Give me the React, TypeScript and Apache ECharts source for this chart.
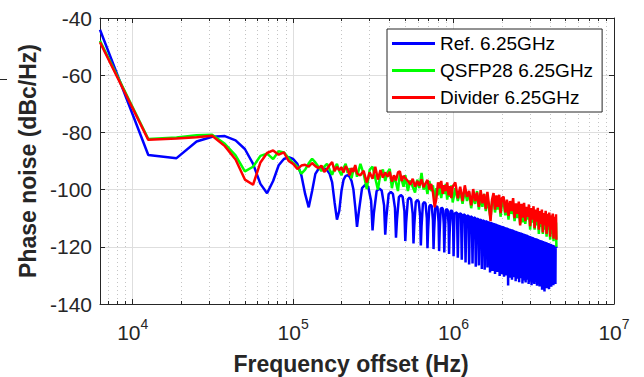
import React, { useEffect, useRef } from "react";
import * as echarts from "echarts";

// ---------------- data (frequency in kHz, phase noise in dBc/Hz) ----------------
const seriesNames = ["Ref. 6.25GHz", "QSFP28 6.25GHz", "Divider 6.25GHz"];

const refPoints: [number, number][] = [
  [6.25, -44.1], [12.5, -87.9], [18.75, -89.0], [25, -83.2], [31.25, -81.5], [37.5, -81.3],
  [43.75, -82.8], [50, -85.8], [56.25, -91.0], [62.5, -98.0], [68.75, -101.3], [75, -97.0],
  [81.25, -91.5], [87.5, -89.3], [93.75, -88.7], [100, -89.3], [106.25, -91.0], [112.5, -95.0],
  [118.75, -101.5], [125, -106.2], [131.25, -100.5], [137.5, -94.5], [143.75, -92.8], [150, -92.4],
  [156.25, -92.5], [162.5, -93.2], [168.75, -94.5], [175, -97.5], [181.25, -104.5], [187.5, -110.5],
  [193.75, -107.5], [200, -100.5], [206.25, -96.5], [212.5, -95.2], [218.75, -95.0], [225, -95.5],
  [231.25, -97.0], [237.5, -100.0], [243.75, -106.0], [250, -113.0],
  [256.25, -108.0], [268.75, -99.5], [281.25, -98.3], [293.75, -99.0], [306.25, -104.0],
  [312.5, -114.3], [318.75, -108.0], [331.25, -100.5], [343.75, -99.6], [356.25, -100.3], [368.75, -105.5],
  [375, -115.8], [381.25, -109.5], [393.75, -101.6], [406.25, -100.8], [418.75, -101.5], [431.25, -106.5],
  [437.5, -116.8], [443.75, -110.5], [456.25, -102.6], [468.75, -101.9], [481.25, -102.5], [493.75, -107.5],
  [500, -118.0], [506.25, -111.5], [518.75, -103.5], [531.25, -102.8], [543.75, -103.4], [556.25, -108.5],
  [562.5, -118.8], [568.75, -112.5], [581.25, -104.3], [593.75, -103.6], [606.25, -104.2], [618.75, -109.3],
  [625, -119.5], [631.25, -113.0], [643.75, -105.0], [656.25, -104.3], [668.75, -104.9], [681.25, -110.0],
  [687.5, -120.5], [693.75, -114.0], [706.25, -105.8], [718.75, -105.3], [731.25, -105.8], [743.75, -110.8],
  [750, -120.8], [756.25, -114.5], [768.75, -106.3], [781.25, -105.8], [793.75, -106.2], [806.25, -111.3],
  [812.5, -121.5], [818.75, -115.0], [831.25, -106.8], [843.75, -106.3], [856.25, -106.7], [868.75, -112.0],
  [875, -122.0], [881.25, -115.5], [893.75, -107.2], [906.25, -106.8], [918.75, -107.2], [931.25, -112.5],
  [937.5, -122.5], [943.75, -116.0], [956.25, -107.6], [968.75, -107.3], [981.25, -107.6], [993.75, -113.0],
  [1000, -123.3], [1012.5, -108.4], [1050, -108.0],
  [1062.5, -123.8], [1075, -108.7], [1112.5, -108.3],
  [1125, -124.5], [1137.5, -109.0], [1175, -108.7],
  [1187.5, -125.5], [1200, -109.4], [1237.5, -109.0],
  [1250, -126.2], [1262.5, -109.7], [1300, -109.4],
  [1312.5, -125.8], [1325, -110.1], [1362.5, -109.7],
  [1375, -127.0], [1387.5, -110.5], [1425, -110.1],
  [1437.5, -126.5], [1450, -110.8], [1487.5, -110.5],
  [1500, -127.8], [1512.5, -111.1], [1550, -110.8],
  [1562.5, -128.0], [1575, -111.4], [1612.5, -111.0],
  [1625, -127.2], [1637.5, -111.7], [1675, -111.3],
  [1687.5, -129.0], [1700, -112.0], [1737.5, -111.6],
  [1750, -128.5], [1762.5, -112.3], [1800, -111.9],
  [1812.5, -129.5], [1825, -112.6], [1862.5, -112.2],
  [1875, -128.8], [1887.5, -112.9], [1925, -112.5],
  [1937.5, -130.2], [1950, -113.2], [1987.5, -112.8],
  [2000, -129.6], [2012.5, -113.4], [2050, -113.0],
  [2062.5, -130.5], [2075, -113.7], [2112.5, -113.3],
  [2125, -130.0], [2137.5, -113.9], [2175, -113.5],
  [2187.5, -133.5], [2200, -114.2], [2237.5, -113.8],
  [2250, -130.8], [2262.5, -114.4], [2300, -114.0],
  [2312.5, -131.5], [2325, -114.6], [2362.5, -114.2],
  [2375, -130.6], [2387.5, -114.9], [2425, -114.5],
  [2437.5, -132.0], [2450, -115.1], [2487.5, -114.7],
  [2500, -131.2], [2512.5, -115.3], [2550, -114.9],
  [2562.5, -132.4], [2575, -115.5], [2612.5, -115.1],
  [2625, -131.0], [2637.5, -115.7], [2675, -115.3],
  [2687.5, -132.8], [2700, -115.9], [2737.5, -115.5],
  [2750, -131.8], [2762.5, -116.1], [2800, -115.7],
  [2812.5, -132.5], [2825, -116.3], [2862.5, -115.9],
  [2875, -131.5], [2887.5, -116.5], [2925, -116.1],
  [2937.5, -133.0], [2950, -116.7], [2987.5, -116.3],
  [3000, -132.2], [3012.5, -116.9], [3050, -116.5],
  [3062.5, -133.4], [3075, -117.1], [3112.5, -116.7],
  [3125, -132.6], [3137.5, -117.3], [3175, -116.9],
  [3187.5, -133.0], [3200, -117.5], [3237.5, -117.1],
  [3250, -132.4], [3262.5, -117.6], [3300, -117.2],
  [3312.5, -133.6], [3325, -117.8], [3362.5, -117.4],
  [3375, -132.8], [3387.5, -118.0], [3425, -117.6],
  [3437.5, -133.9], [3450, -118.2], [3487.5, -117.8],
  [3500, -133.2], [3512.5, -118.3], [3550, -117.9],
  [3562.5, -135.0], [3575, -118.5], [3612.5, -118.1],
  [3625, -133.5], [3637.5, -118.6], [3675, -118.2],
  [3687.5, -135.6], [3700, -118.8], [3737.5, -118.4],
  [3750, -133.8], [3762.5, -118.9], [3800, -118.5],
  [3812.5, -134.5], [3825, -119.1], [3862.5, -118.7],
  [3875, -133.6], [3887.5, -119.2], [3925, -118.8],
  [3937.5, -134.8], [3950, -119.4], [3987.5, -119.0],
  [4000, -133.2], [4012.5, -119.5], [4050, -119.1],
  [4062.5, -134.0], [4075, -119.7], [4112.5, -119.3],
  [4125, -133.0], [4137.5, -119.8], [4175, -119.4],
  [4187.5, -133.4], [4200, -120.0], [4237.5, -119.6],
  [4250, -132.8], [4262.5, -120.1], [4300, -119.7],
  [4312.5, -133.0], [4325, -120.3], [4362.5, -119.9],
  [4375, -120.5],
];

const rgFreqKHz: number[] = [
  6.25, 12.5, 18.75, 25, 31.25, 37.5, 43.75, 50, 56.25, 62.5,
  68.75, 75, 81.25, 87.5, 93.75, 100, 106.25, 112.5, 118.75, 125,
  131.25, 137.5, 143.75, 150, 156.25, 162.5, 168.75, 175, 181.25, 187.5,
  193.75, 200, 206.25, 212.5, 218.75, 225, 231.25, 237.5, 243.75, 250,
  262.5, 275, 287.5, 300, 312.5, 325, 337.5, 350, 362.5, 375,
  387.5, 400, 412.5, 425, 437.5, 450, 462.5, 475, 487.5, 500,
  518.75, 537.5, 556.25, 575, 593.75, 612.5, 631.25, 650, 668.75, 687.5,
  706.25, 725, 743.75, 762.5, 781.25, 800, 818.75, 837.5, 856.25, 875,
  893.75, 912.5, 931.25, 950, 968.75, 987.5,
  1025, 1062.5, 1100, 1137.5, 1175, 1212.5, 1250, 1287.5, 1325, 1362.5,
  1400, 1437.5, 1475, 1512.5, 1550, 1587.5, 1625, 1662.5, 1700, 1737.5,
  1775, 1812.5, 1850, 1887.5, 1925, 1962.5, 2000,
  2050, 2100, 2150, 2200, 2250, 2300, 2350, 2400, 2450, 2500,
  2550, 2600, 2650, 2700, 2750, 2800, 2850, 2900, 2950, 3000,
  3050, 3100, 3150, 3200, 3250, 3300, 3350, 3400, 3450, 3500,
  3550, 3600, 3650, 3700, 3750, 3800, 3850, 3900, 3950, 4000,
  4050, 4100, 4150, 4200, 4250, 4300, 4350, 4375,
];

const qsfpDb: number[] = [
  -48.0, -82.3, -81.8, -81.0, -80.8, -84.0, -88.0, -93.6, -92.0, -88.2,
  -87.4, -89.3, -86.6, -87.0, -89.0, -90.7, -92.0, -94.4, -93.0, -90.8,
  -89.2, -90.5, -92.0, -93.5, -92.0, -91.0, -93.0, -94.8, -92.5, -91.0,
  -93.5, -95.0, -92.5, -91.0, -94.2, -92.5, -96.0, -93.0, -92.0, -95.5,
  -91.0, -94.5, -99.8, -93.0, -92.0, -96.0, -100.0, -94.5, -93.0, -97.0,
  -94.0, -92.8, -99.5, -95.5, -97.5, -100.5, -94.5, -96.5, -99.0, -95.0,
  -100.5, -96.8, -99.0, -101.0, -96.5, -99.5, -94.2, -100.0, -98.0, -101.5,
  -97.0, -100.5, -98.5, -104.0, -99.5, -102.0, -97.5, -103.0, -99.0, -101.5,
  -98.0, -103.5, -99.5, -102.5, -98.5, -104.5,
  -99.5, -104.0, -100.5, -105.0, -100.0, -104.0, -101.0, -106.5, -102.0, -105.0,
  -100.5, -107.0, -102.5, -106.0, -101.5, -107.5, -103.0, -106.5, -110.0, -104.0,
  -103.0, -108.0, -104.5, -107.0, -103.5, -109.5, -105.0,
  -104.0, -109.0, -105.0, -110.5, -104.5, -108.5, -106.0, -111.0, -105.5, -110.0,
  -106.5, -112.0, -107.0, -111.5, -106.5, -112.0, -107.5, -110.5, -107.0, -114.0,
  -108.0, -111.5, -108.5, -114.0, -108.5, -112.5, -109.0, -115.5, -109.5, -113.0,
  -109.5, -115.5, -110.0, -114.0, -110.5, -116.5, -110.5, -114.0, -111.0, -117.5,
  -111.0, -115.5, -111.5, -118.0, -112.0, -116.5, -111.5, -120.0,
];

const dividerDb: number[] = [
  -48.5, -82.6, -82.1, -81.7, -81.2, -84.8, -89.5, -96.5, -98.3, -90.5,
  -87.2, -86.3, -87.8, -87.0, -90.0, -91.0, -92.8, -91.6, -91.3, -92.0,
  -90.7, -91.8, -92.5, -91.6, -93.8, -92.8, -91.4, -90.4, -93.6, -92.0,
  -93.2, -92.2, -94.0, -91.8, -93.0, -95.0, -92.5, -93.8, -91.4, -94.4,
  -95.0, -93.4, -97.5, -94.0, -96.2, -92.0, -96.5, -93.2, -95.8, -94.0,
  -95.5, -93.8, -97.2, -95.0, -96.8, -94.0, -93.6, -97.0, -95.2, -96.0,
  -97.0, -98.2, -96.2, -99.0, -97.0, -98.6, -96.4, -99.2, -97.8, -96.6,
  -100.0, -98.0, -101.0, -106.2, -103.0, -97.5, -99.5, -97.0, -101.5, -98.5,
  -100.5, -97.5, -102.0, -98.8, -103.0, -99.0,
  -97.5, -103.0, -99.0, -104.0, -98.5, -102.5, -100.5, -105.5, -99.8, -104.0,
  -101.0, -106.0, -100.2, -104.8, -101.5, -106.8, -100.8, -105.5, -111.0, -103.5,
  -101.2, -107.0, -102.0, -106.0, -101.8, -108.2, -103.0,
  -102.5, -108.0, -103.5, -109.2, -104.0, -107.5, -103.0, -110.0, -104.8, -108.5,
  -104.2, -112.5, -105.0, -109.8, -104.6, -111.0, -106.0, -109.5, -105.2, -112.8,
  -106.5, -110.5, -105.8, -113.5, -107.0, -111.2, -106.4, -114.0, -107.5, -112.0,
  -107.0, -115.0, -108.2, -112.5, -107.4, -115.5, -108.5, -113.0, -108.0, -116.5,
  -109.0, -114.0, -108.4, -117.2, -109.5, -115.0, -108.6, -117.5,
];

const xMajorTicks = [1e4, 1e5, 1e6, 1e7];
const xMinorTicks = [
  7e3, 8e3, 9e3,
  2e4, 3e4, 4e4, 5e4, 6e4, 7e4, 8e4, 9e4,
  2e5, 3e5, 4e5, 5e5, 6e5, 7e5, 8e5, 9e5,
  2e6, 3e6, 4e6, 5e6, 6e6, 7e6, 8e6, 9e6,
];
const yTicks = { min: -140, max: -40, step: 20 };
const xRange = { min: 6250, max: 1e7 };

// ---------------- chart ----------------
const FONT = "'Liberation Sans', Arial, Helvetica, sans-serif";
const AX = "#262626";
const GRID_MAJOR = "#dedede";
const GRID_MINOR = "#c4c4c4";

export default function App() {
  const ref = useRef<HTMLDivElement>(null);

  useEffect(() => {
    if (!ref.current) return;
    const chart = echarts.init(ref.current, undefined, { renderer: "svg" });

    const refData = refPoints.map(([f, v]) => [f * 1000, v]);
    const qsfpData = rgFreqKHz.map((f, i) => [f * 1000, qsfpDb[i]]);
    const divData = rgFreqKHz.map((f, i) => [f * 1000, dividerDb[i]]);

    const baseX = {
      type: "log" as const,
      logBase: 10,
      min: xRange.min,
      max: xRange.max,
      minorTick: { show: false },
      minorSplitLine: { show: false },
    };

    const option: any = {
      animation: false,
      backgroundColor: "#ffffff",
      textStyle: { fontFamily: FONT },
      grid: {
        left: 100,
        top: 18,
        width: 514,
        height: 286,
        containLabel: false,
        outerBoundsMode: "none",
      },
      legend: {
        data: seriesNames,
        orient: "vertical",
        left: 387,
        top: 29,
        padding: [5, 9, 5, 5],
        icon: "rect",
        itemWidth: 43,
        itemHeight: 3,
        itemGap: 8,
        backgroundColor: "#ffffff",
        borderColor: AX,
        borderWidth: 1,
        borderRadius: 0,
        textStyle: { fontFamily: FONT, fontSize: 19, color: "#000000" },
      },
      xAxis: [
        {
          ...baseX,
          position: "bottom",
          name: "Frequency offset (Hz)",
          nameLocation: "middle",
          nameGap: 48,
          nameTextStyle: {
            fontFamily: FONT, fontSize: 23, fontWeight: "bold", color: AX, padding: [0, 12, 0, 0],
          },
          axisLine: { show: true, onZero: false, lineStyle: { color: AX, width: 1 } },
          axisTick: { show: true, inside: true, length: 5, customValues: xMajorTicks, lineStyle: { color: AX } },
          axisLabel: {
            show: true,
            customValues: xMajorTicks,
            margin: 13,
            formatter: (v: number) => `{b|10}{s|${Math.round(Math.log10(v))}}`,
            rich: {
              b: { fontFamily: FONT, fontSize: 21, color: AX, lineHeight: 26, verticalAlign: "bottom" },
              s: { fontFamily: FONT, fontSize: 14, color: AX, lineHeight: 14, verticalAlign: "top" },
            },
          },
          splitLine: { show: true, lineStyle: { color: GRID_MAJOR, width: 1 } },
        },
        {
          ...baseX,
          position: "bottom",
          axisLine: { show: false, onZero: false },
          axisTick: { show: true, inside: true, length: 3, customValues: xMinorTicks, lineStyle: { color: AX } },
          axisLabel: { show: false },
          splitLine: { show: true, lineStyle: { color: GRID_MINOR, width: 1, type: [1, 3] } },
        },
        {
          ...baseX,
          position: "top",
          axisLine: { show: true, onZero: false, lineStyle: { color: AX, width: 1 } },
          axisTick: { show: true, inside: true, length: 5, customValues: xMajorTicks, lineStyle: { color: AX } },
          axisLabel: { show: false },
          splitLine: { show: false },
        },
        {
          ...baseX,
          position: "top",
          axisLine: { show: false, onZero: false },
          axisTick: { show: true, inside: true, length: 3, customValues: xMinorTicks, lineStyle: { color: AX } },
          axisLabel: { show: false },
          splitLine: { show: false },
        },
      ],
      yAxis: [
        {
          type: "value",
          position: "left",
          min: yTicks.min,
          max: yTicks.max,
          interval: yTicks.step,
          name: "Phase noise (dBc/Hz)",
          nameLocation: "middle",
          nameGap: 57,
          nameTextStyle: { fontFamily: FONT, fontSize: 23, fontWeight: "bold", color: AX },
          axisLine: { show: true, onZero: false, lineStyle: { color: AX, width: 1 } },
          axisTick: { show: true, inside: true, length: 5, lineStyle: { color: AX } },
          axisLabel: { show: true, fontFamily: FONT, fontSize: 21, color: AX, margin: 8 },
          splitLine: { show: true, lineStyle: { color: GRID_MAJOR, width: 1 } },
        },
        {
          type: "value",
          position: "right",
          min: yTicks.min,
          max: yTicks.max,
          interval: yTicks.step,
          axisLine: { show: true, onZero: false, lineStyle: { color: AX, width: 1 } },
          axisTick: { show: true, inside: true, length: 5, lineStyle: { color: AX } },
          axisLabel: { show: false },
          splitLine: { show: false },
        },
      ],
      series: [
        {
          name: seriesNames[0],
          type: "line",
          xAxisIndex: 0,
          yAxisIndex: 0,
          data: refData,
          showSymbol: false,
          symbol: "none",
          lineStyle: { color: "#0000ff", width: 2.5 },
          itemStyle: { color: "#0000ff" },
          z: 3,
        },
        {
          name: seriesNames[1],
          type: "line",
          xAxisIndex: 0,
          yAxisIndex: 0,
          data: qsfpData,
          showSymbol: false,
          symbol: "none",
          lineStyle: { color: "#00ff00", width: 2.5 },
          itemStyle: { color: "#00ff00" },
          z: 4,
        },
        {
          name: seriesNames[2],
          type: "line",
          xAxisIndex: 0,
          yAxisIndex: 0,
          data: divData,
          showSymbol: false,
          symbol: "none",
          lineStyle: { color: "#ff0000", width: 2.5 },
          itemStyle: { color: "#ff0000" },
          z: 5,
        },
      ],
      graphic: [
        {
          type: "line",
          shape: { x1: 0, y1: 79.5, x2: 7, y2: 79.5 },
          style: { stroke: AX, lineWidth: 1 },
        },
      ],
    };

    chart.setOption(option);
    return () => chart.dispose();
  }, []);

  return (
    <div
      ref={ref}
      style={{ position: "fixed", left: 0, top: 0, width: 644, height: 377, background: "#fff" }}
    />
  );
}
